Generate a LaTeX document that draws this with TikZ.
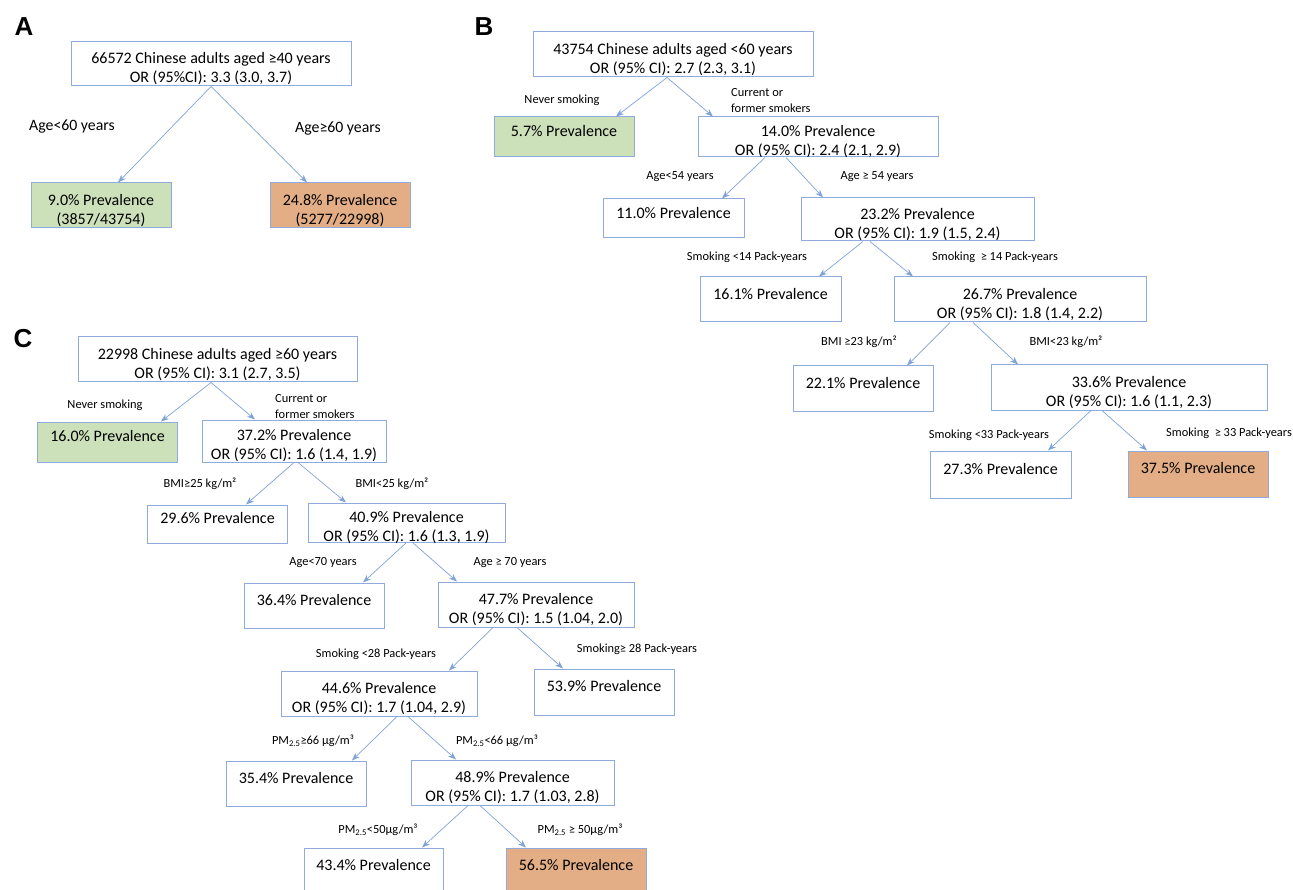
\documentclass[tikz,border=0pt]{standalone}
\usepackage{fontspec}
\setmainfont{Carlito}
\newfontfamily\headfont{Liberation Sans}
\usetikzlibrary{arrows.meta}

\definecolor{boxline}{HTML}{8FAADC}
\definecolor{edgeline}{HTML}{7FA2D9}
\definecolor{lowfill}{HTML}{CCE0BA}
\definecolor{highfill}{HTML}{E3AE85}

\tikzset{
	box/.style={draw=boxline, line width=1pt, fill=white, align=center, inner sep=0pt,
		font=\fontsize{16}{19}\selectfont, text height=37.5pt, text depth=0pt},
	low/.style={box, fill=lowfill},
	high/.style={box, fill=highfill},
	edge/.style={draw=edgeline, line width=0.7pt, -{Stealth[length=8pt,width=6pt]}},
	lbl/.style={font=\fontsize{12.4}{16}\selectfont, align=left, inner sep=0pt},
	biglbl/.style={font=\fontsize{15.8}{19}\selectfont, inner sep=0pt},
	panel/.style={font=\headfont\bfseries\fontsize{26}{26}\selectfont, inner sep=0pt}
}

\begin{document}
\begin{tikzpicture}[x=1pt, y=-1pt]
\useasboundingbox (0,0) rectangle (1293,890);

% panel A
	\node[panel] (pa) at (24,27) {A};
	\node[box, minimum width=280, minimum height=44] (a0) at (211,64)
		{66572 Chinese adults aged ≥40 years\\OR (95\%CI): 3.3 (3.0, 3.7)};
	\node[low, minimum width=140, minimum height=45] (a1) at (101,205.5)
		{9.0\% Prevalence\\(3857/43754)};
	\node[high, minimum width=140, minimum height=45] (a2) at (340,205.5)
		{24.8\% Prevalence\\(5277/22998)};
	\draw[edge] (a0.south) -- ([xshift=17pt]a1.north);
	\draw[edge] (a0.south) -- ([xshift=-33pt]a2.north);
	\node[biglbl] (la1) at (72,127) {Age<60 years};
	\node[biglbl] (la2) at (338,129) {Age≥60 years};

% panel B
	\node[panel] (pb) at (484,27) {B};
	\node[box, minimum width=280, minimum height=45] (b0) at (673,54.5)
		{43754 Chinese adults aged <60 years\\OR (95\% CI): 2.7 (2.3, 3.1)};
	\node[low, minimum width=140, minimum height=40] (b1) at (564,137)
		{5.7\% Prevalence\\\strut};
	\node[box, minimum width=240, minimum height=40] (b2) at (818,137)
		{14.0\% Prevalence\\OR (95\% CI): 2.4 (2.1, 2.9)};
	\draw[edge] ([xshift=-6pt]b0.south) -- ([xshift=52pt]b1.north);
	\draw[edge] ([xshift=-6pt]b0.south) -- ([xshift=-105pt]b2.north);
	\node[lbl] (lb1) at (562,100) {Never smoking};
	\node[lbl, anchor=west] (lb2) at (731,101) {Current or\\former smokers};

	\node[box, minimum width=141, minimum height=39] (b3) at (673.5,218.5)
		{11.0\% Prevalence\\\strut};
	\node[box, minimum width=233, minimum height=43] (b4) at (917.5,219.5)
		{23.2\% Prevalence\\OR (95\% CI): 1.9 (1.5, 2.4)};
	\draw[edge] ([xshift=-53pt]b2.south) -- ([xshift=48.5pt]b3.north);
	\draw[edge] ([xshift=-32pt]b2.south) -- ([xshift=-94.5pt]b4.north);
	\node[lbl] (lb3) at (680,177) {Age<54 years};
	\node[lbl] (lb4) at (877,177) {Age ≥ 54 years};

	\node[box, minimum width=141, minimum height=45] (b5) at (770.5,299.5)
		{16.1\% Prevalence\\\strut};
	\node[box, minimum width=252, minimum height=45] (b6) at (1020,299.5)
		{26.7\% Prevalence\\OR (95\% CI): 1.8 (1.4, 2.2)};
	\draw[edge] ([xshift=-54.5pt]b4.south) -- ([xshift=48.5pt]b5.north);
	\draw[edge] ([xshift=-47.5pt]b4.south) -- ([xshift=-107pt]b6.north);
	\node[lbl] (lb5) at (747,257) {Smoking <14 Pack-years};
	\node[lbl] (lb6) at (995,257) {Smoking \ ≥ 14 Pack-years};

	\node[box, minimum width=140, minimum height=45] (b7) at (863,388.5)
		{22.1\% Prevalence\\\strut};
	\node[box, minimum width=276, minimum height=45] (b8) at (1129,387.5)
		{33.6\% Prevalence\\OR (95\% CI): 1.6 (1.1, 2.3)};
	\draw[edge] ([xshift=-70pt]b6.south) -- ([xshift=44pt]b7.north);
	\draw[edge] ([xshift=-47pt]b6.south) -- ([xshift=-111pt]b8.north);
	\node[lbl] (lb7) at (859,342) {BMI ≥23 kg/m²};
	\node[lbl] (lb8) at (1066,342) {BMI<23 kg/m²};

	\node[box, minimum width=141, minimum height=47] (b9) at (1000.5,474.5)
		{27.3\% Prevalence\\\strut};
	\node[high, minimum width=140, minimum height=46] (b10) at (1198,474)
		{37.5\% Prevalence\\\strut};
	\draw[edge] ([xshift=-38pt]b8.south) -- ([xshift=47.5pt]b9.north);
	\draw[edge] ([xshift=-27pt]b8.south) -- ([xshift=-51pt]b10.north);
	\node[lbl] (lb9) at (989,435) {Smoking <33 Pack-years};
	\node[lbl] (lb10) at (1229,433) {Smoking \ ≥ 33 Pack-years};

% panel C
	\node[panel] (pc) at (23,339) {C};
	\node[box, minimum width=279, minimum height=45] (c0) at (217.5,359.5)
		{22998 Chinese adults aged ≥60 years\\OR (95\% CI): 3.1 (2.7, 3.5)};
	\node[low, minimum width=140, minimum height=40] (c1) at (107.5,442)
		{16.0\% Prevalence\\\strut};
	\node[box, minimum width=184, minimum height=42] (c2) at (294,441)
		{37.2\% Prevalence\\OR (95\% CI): 1.6 (1.4, 1.9)};
	\draw[edge] ([xshift=-6.5pt]c0.south) -- ([xshift=53.5pt]c1.north);
	\draw[edge] ([xshift=-6.5pt]c0.south) -- ([xshift=-39pt]c2.north);
	\node[lbl] (lc1) at (105,405) {Never smoking};
	\node[lbl, anchor=west] (lc2) at (275,407) {Current or\\former smokers};

	\node[box, minimum width=140, minimum height=38] (c3) at (217.5,524)
		{29.6\% Prevalence\\\strut};
	\node[box, minimum width=197, minimum height=39] (c4) at (406.5,522.5)
		{40.9\% Prevalence\\OR (95\% CI): 1.6 (1.3, 1.9)};
	\draw[edge] (c2.south) -- ([xshift=28.5pt]c3.north);
	\draw[edge] ([xshift=4pt]c2.south) -- ([xshift=-60.5pt]c4.north);
	\node[lbl] (lc3) at (200,484) {BMI≥25 kg/m²};
	\node[lbl] (lc4) at (392,484) {BMI<25 kg/m²};

	\node[box, minimum width=140, minimum height=45] (c5) at (314,605.5)
		{36.4\% Prevalence\\\strut};
	\node[box, minimum width=196, minimum height=45] (c6) at (536,604.5)
		{47.7\% Prevalence\\OR (95\% CI): 1.5 (1.04, 2.0)};
	\draw[edge] (c4.south) -- ([xshift=49pt]c5.north);
	\draw[edge] ([xshift=6pt]c4.south) -- ([xshift=-79pt]c6.north);
	\node[lbl] (lc5) at (323,563) {Age<70 years};
	\node[lbl] (lc6) at (510,563) {Age ≥ 70 years};

	\node[box, minimum width=196, minimum height=45] (c7) at (379,693.5)
		{44.6\% Prevalence\\OR (95\% CI): 1.7 (1.04, 2.9)};
	\node[box, minimum width=140, minimum height=46] (c8) at (604,692)
		{53.9\% Prevalence\\\strut};
	\draw[edge] ([xshift=-43pt]c6.south) -- ([xshift=70pt]c7.north);
	\draw[edge] ([xshift=-19pt]c6.south) -- ([xshift=-41pt]c8.north);
	\node[lbl] (lc7) at (376,654) {Smoking <28 Pack-years};
	\node[lbl] (lc8) at (637,649) {Smoking≥ 28 Pack-years};

	\node[box, minimum width=140, minimum height=45] (c9) at (296,783.5)
		{35.4\% Prevalence\\\strut};
	\node[box, minimum width=203, minimum height=45] (c10) at (512.5,782.5)
		{48.9\% Prevalence\\OR (95\% CI): 1.7 (1.03, 2.8)};
	\draw[edge] ([xshift=18pt]c7.south) -- ([xshift=56pt]c9.north);
	\draw[edge] ([xshift=29pt]c7.south) -- ([xshift=-56.5pt]c10.north);
	\node[lbl] (lc9) at (313,741) {PM\textsubscript{2.5}≥66 µg/m³};
	\node[lbl] (lc10) at (497,741) {PM\textsubscript{2.5}<66 µg/m³};

	\node[box, minimum width=139, minimum height=45] (c11) at (373.5,870.5)
		{43.4\% Prevalence\\\strut};
	\node[high, minimum width=140, minimum height=45] (c12) at (576,870.5)
		{56.5\% Prevalence\\\strut};
	\draw[edge] ([xshift=-44.5pt]c10.south) -- ([xshift=48.5pt]c11.north);
	\draw[edge] ([xshift=-32.5pt]c10.south) -- ([xshift=-50pt]c12.north);
	\node[lbl] (lc11) at (378,830) {PM\textsubscript{2.5}<50µg/m³};
	\node[lbl] (lc12) at (580,830) {PM\textsubscript{2.5} ≥ 50µg/m³};
\end{tikzpicture}
\end{document}
